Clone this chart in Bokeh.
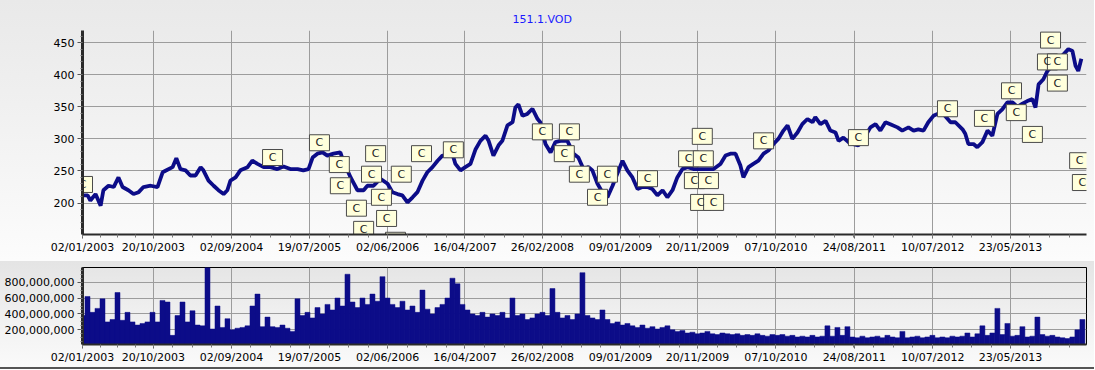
import numpy as np
from bokeh.plotting import figure
from bokeh.layouts import column
from bokeh.models import FixedTicker, NumeralTickFormatter, Range1d
from bokeh.core.properties import value
from bokeh.embed import file_html
from bokeh.resources import INLINE

# ---------------- data ----------------
title_text = "151.1.VOD"
start_date = "2003-01-02"
tick_dates = ["2003-01-02", "2003-10-20", "2004-09-02", "2005-07-19", "2006-06-02",
              "2007-04-16", "2008-02-26", "2009-01-09", "2009-11-20", "2010-10-07",
              "2011-08-24", "2012-07-10", "2013-05-23"]
last_bar = 2932  # trading-day span of the chart

# price samples: bar = business days since 2003-01-02
price_bar = [0, 9, 15, 23, 38, 53, 61, 76, 91, 105, 117, 134, 149, 164, 178, 199, 219, 234, 248, 263,
             274, 286, 301, 315, 330, 345, 353, 368, 383, 397, 412, 423, 432, 447, 461, 482, 496, 511, 529, 549,
             569, 587, 607, 628, 645, 660, 672, 686, 701, 715, 733, 753, 762, 783, 803, 821, 832, 850, 870, 891,
             905, 920, 934, 949, 964, 978, 993, 1007, 1022, 1037, 1051, 1066, 1080, 1089, 1104, 1118, 1133, 1148, 1162, 1177,
             1186, 1200, 1215, 1226, 1241, 1256, 1264, 1273, 1285, 1299, 1314, 1329, 1337, 1352, 1367, 1381, 1396, 1416, 1434, 1448,
             1463, 1478, 1489, 1504, 1518, 1533, 1548, 1562, 1577, 1591, 1606, 1621, 1635, 1650, 1664, 1679, 1694, 1708, 1723, 1737,
             1752, 1767, 1784, 1805, 1825, 1843, 1863, 1878, 1892, 1907, 1921, 1930, 1945, 1959, 1974, 1989, 2003, 2018, 2032, 2047,
             2059, 2073, 2088, 2102, 2117, 2132, 2140, 2155, 2170, 2184, 2199, 2208, 2222, 2237, 2251, 2266, 2281, 2301, 2316, 2330,
             2345, 2359, 2380, 2394, 2412, 2427, 2441, 2456, 2470, 2485, 2497, 2514, 2535, 2549, 2570, 2578, 2587, 2602, 2613, 2628,
             2643, 2657, 2672, 2686, 2701, 2716, 2730, 2745, 2759, 2774, 2783, 2792, 2806, 2818, 2827, 2847, 2865, 2879, 2891, 2900,
             2908, 2917]
price = [212, 212, 212, 204, 214, 196, 220, 227, 225, 240, 225, 220, 214, 217, 225, 227, 225, 248, 252, 256,
         270, 253, 251, 243, 243, 256, 251, 235, 227, 220, 214, 220, 235, 240, 251, 256, 266, 261, 256, 256,
         253, 257, 253, 253, 251, 253, 271, 277, 279, 274, 277, 279, 265, 240, 220, 220, 227, 227, 238, 230,
         217, 214, 212, 201, 209, 217, 235, 248, 256, 266, 274, 274, 277, 261, 251, 256, 261, 284, 297, 305,
         297, 274, 290, 297, 321, 326, 349, 354, 336, 339, 347, 331, 326, 292, 279, 295, 297, 297, 277, 271,
         253, 256, 251, 230, 217, 209, 227, 246, 266, 251, 240, 222, 225, 225, 222, 212, 220, 209, 220, 240,
         253, 256, 253, 253, 253, 253, 261, 274, 277, 277, 259, 240, 256, 261, 266, 277, 282, 292, 300, 313,
         321, 300, 310, 323, 331, 326, 334, 323, 328, 313, 310, 297, 302, 295, 292, 290, 300, 318, 323, 313,
         326, 323, 318, 313, 318, 313, 315, 313, 326, 336, 339, 339, 326, 326, 315, 308, 292, 292, 287, 295,
         313, 305, 339, 346, 357, 357, 350, 355, 359, 362, 349, 385, 393, 406, 411, 421, 432, 440, 437, 414,
         406, 425]

# volume samples (millions of shares), one every 14.6 trading days
volume_m = [380, 620, 420, 470, 590, 300, 330, 670, 320, 420, 300, 260, 280, 300, 420, 300, 570, 550, 130, 380,
            550, 300, 440, 260, 250, 990, 210, 500, 230, 340, 200, 220, 230, 250, 500, 650, 240, 360, 240, 230,
            260, 220, 180, 590, 380, 420, 350, 480, 400, 520, 450, 600, 500, 900, 550, 480, 600, 520, 650, 560,
            870, 600, 520, 480, 560, 450, 500, 420, 700, 460, 400, 480, 520, 600, 850, 780, 520, 450, 400, 380,
            420, 360, 400, 380, 420, 350, 600, 380, 400, 330, 350, 400, 420, 380, 720, 420, 350, 380, 330, 400,
            920, 380, 350, 330, 450, 330, 280, 300, 260, 280, 250, 230, 260, 220, 240, 210, 230, 250, 200, 180,
            190, 160, 170, 150, 160, 180, 150, 140, 160, 150, 140, 150, 130, 140, 130, 150, 130, 120, 140, 130,
            140, 120, 130, 110, 120, 110, 130, 110, 120, 250, 120, 230, 130, 240, 110, 100, 120, 100, 110, 120,
            100, 130, 110, 100, 180, 100, 110, 120, 100, 110, 130, 100, 110, 100, 120, 110, 120, 160, 110, 150,
            250, 130, 160, 470, 140, 280, 120, 130, 240, 110, 120, 360, 140, 120, 130, 110, 100, 90, 110, 200,
            330]
vol_step = 14.6

# "C" event markers
c_bar = [0, 555, 692, 750, 753, 856, 844, 800, 821, 873, 888, 914, 931, 990, 1083, 1343, 1422, 1407, 1451, 1504,
         1533, 1650, 1810, 1770, 1813, 1787, 1828, 1805, 1843, 1989, 2266, 2526, 2634, 2713, 2727, 2774, 2827, 2818, 2847, 2847,
         2912, 2920]
c_price = [229, 271, 294, 260, 227, 277, 245, 192, 159, 209, 176, 142, 245, 277, 283, 311, 311, 277, 245, 209,
           245, 238, 304, 269, 269, 235, 235, 201, 201, 297, 302, 347, 332, 375, 341, 307, 454, 420, 420, 387,
           266, 232]

# ---------------- derived ----------------
tick_bars = [int(b) for b in np.busday_count(start_date, tick_dates)]
tick_labels = [d[8:10] + "/" + d[5:7] + "/" + d[0:4] for d in tick_dates]
edges = tick_bars + [last_bar]
minor_x = []
for i, (a, b) in enumerate(zip(edges[:-1], edges[1:])):
    step = (tick_bars[1] - tick_bars[0]) / 4 if i == 0 else (tick_bars[2] - tick_bars[1]) / 4
    k = 0
    while a + k * step < b:
        minor_x.append(a + k * step)
        k += 1
vol_bar = [i * vol_step for i in range(len(volume_m))]
volume = [v * 1e6 for v in volume_m]

FONT = "DejaVu Sans"
NAVY = "#0c0c88"
GRID = "#9c9c9c"

x_range = Range1d(0, last_bar)

def style_axes(p):
    for ax in (p.xaxis[0], p.yaxis[0]):
        ax.major_label_text_font = FONT
        ax.major_label_text_font_size = "11px"
        ax.major_label_text_color = "#000000"
        ax.major_tick_in = 0
        ax.minor_tick_in = 0
        ax.major_tick_line_color = "#555555"
        ax.minor_tick_line_color = "#777777"
        ax.axis_line_color = "#2a2a2a"
    p.yaxis.axis_line_width = 3
    p.yaxis.major_tick_out = 5
    p.yaxis.minor_tick_out = 2
    p.xaxis.axis_line_width = 2
    p.xaxis.major_tick_out = 4
    p.xaxis.minor_tick_out = 3
    p.xaxis.major_label_standoff = 2
    p.yaxis.major_label_standoff = 3
    p.xaxis.ticker = FixedTicker(ticks=tick_bars, minor_ticks=minor_x)
    p.xaxis.major_label_overrides = {b: l for b, l in zip(tick_bars, tick_labels)}
    p.xgrid.grid_line_color = GRID
    p.ygrid.grid_line_color = GRID
    p.background_fill_color = None
    p.border_fill_color = None

# ---------------- price panel ----------------
p1 = figure(width=1094, height=261, x_range=x_range, y_range=Range1d(151, 469),
            output_backend="svg", toolbar_location=None,
            min_border_left=82, min_border_right=8, min_border_top=30, min_border_bottom=27)
p1.styles = {"background": "linear-gradient(to bottom, #e9e9e9 0%, #efefef 35%, #fcfcfc 100%)"}
p1.outline_line_color = None
style_axes(p1)
p1.yaxis.ticker = FixedTicker(ticks=[200, 250, 300, 350, 400, 450],
                              minor_ticks=list(range(160, 470, 10)))
p1.title.text = title_text
p1.title.align = "left"
p1.title.offset = 430
p1.title.text_font = FONT
p1.title.text_font_size = "11px"
p1.title.text_font_style = "normal"
p1.title.text_color = "#1a1aff"
p1.title.standoff = 10

p1.line(price_bar, price, line_color=NAVY, line_width=3.8)
p1.rect(x=c_bar, y=c_price, width=20, height=16, width_units="screen", height_units="screen",
        fill_color="#ffffdc", line_color="#4a4a4a", line_width=1)
p1.text(x=c_bar, y=c_price, text=["C"] * len(c_bar), text_align="center", text_baseline="middle",
        text_font=value(FONT), text_font_size="11px", text_color="#222222")

# ---------------- volume panel ----------------
p2 = figure(width=1094, height=108, x_range=x_range, y_range=Range1d(15e6, 985e6),
            output_backend="svg", toolbar_location=None,
            min_border_left=82, min_border_right=8, min_border_top=6, min_border_bottom=25)
p2.styles = {"background": "linear-gradient(to bottom, #e4e4e4 0%, #f0f0f0 50%, #fafafa calc(100% - 2px), "
                           "#555555 calc(100% - 2px), #555555 100%)"}
p2.outline_line_color = "#000000"
p2.outline_line_width = 1
style_axes(p2)
p2.yaxis.ticker = FixedTicker(ticks=[2e8, 4e8, 6e8, 8e8],
                              minor_ticks=[i * 5e7 for i in range(1, 20)])
p2.yaxis.formatter = NumeralTickFormatter(format="0,0")
p2.vbar(x=vol_bar, top=volume, bottom=0, width=vol_step, fill_color=NAVY, line_color=NAVY, line_width=0.5)

layout = column(p1, p2, spacing=0)
open("out.html", "w").write(file_html(layout, INLINE))
